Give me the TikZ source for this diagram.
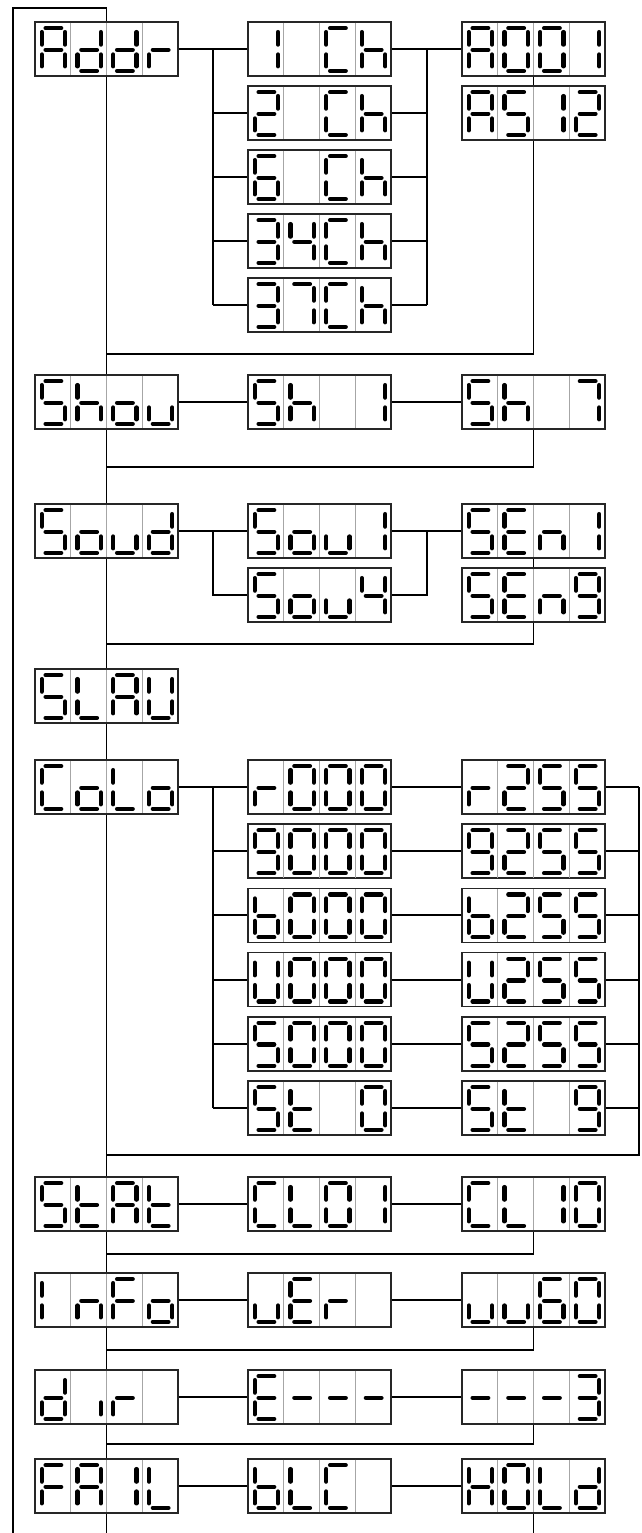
\documentclass[tikz,border=0pt]{standalone}
\usetikzlibrary{calc}
\newcommand\defgl[2]{\expandafter\def\csname zgl#1\endcsname{#2}}
\defgl{A}{a,b,c,e,f,g}
\defgl{0}{a,b,c,d,e,f}
\defgl{1}{b,c}
\defgl{2}{a,b,d,e,g}
\defgl{3}{a,b,c,d,g}
\defgl{4}{b,c,f,g}
\defgl{5}{a,c,d,f,g}
\defgl{6}{a,c,d,e,f,g}
\defgl{7}{a,b,c}
\defgl{9}{a,b,c,d,f,g}
\defgl{b}{c,d,e,f,g}
\defgl{C}{a,d,e,f}
\defgl{d}{b,c,d,e,g}
\defgl{E}{a,d,e,f,g}
\defgl{F}{a,e,f,g}
\defgl{H}{b,c,e,f,g}
\defgl{h}{c,e,f,g}
\defgl{I}{e,f}
\defgl{i}{c}
\defgl{L}{d,e,f}
\defgl{n}{c,e,g}
\defgl{o}{c,d,e,g}
\defgl{r}{e,g}
\defgl{t}{d,e,f,g}
\defgl{U}{b,c,d,e,f}
\defgl{u}{c,d,e}
\defgl{-}{g}
\defgl{x}{}
\expandafter\def\csname zsg\endcsname{}
\expandafter\def\csname zsga\endcsname{\draw[segline] (10.6,-20.9)--(26.2,-20.9);}
\expandafter\def\csname zsgb\endcsname{\draw[segline] (30,-16.9)--(30,-4.4);}
\expandafter\def\csname zsgc\endcsname{\draw[segline] (30,5.5)--(30,17.3);}
\expandafter\def\csname zsgd\endcsname{\draw[segline] (10.6,21.9)--(26.2,21.9);}
\expandafter\def\csname zsge\endcsname{\draw[segline] (6.7,5.5)--(6.7,17.3);}
\expandafter\def\csname zsgf\endcsname{\draw[segline] (6.7,-16.9)--(6.7,-4.4);}
\expandafter\def\csname zsgg\endcsname{\draw[segline] (10.6,0.8)--(26.2,0.8);}
\newcommand\glyph[3]{%
  \begin{scope}[shift={({#1},{#2})}]
    \expandafter\let\expandafter\curgl\csname zgl#3\endcsname
    \foreach \s in \curgl {\csname zsg\s\endcsname}
  \end{scope}}
\newcommand\disp[7]{%
  \node[dispbox] (#1) at ({#2+71.5},{#3}) {};
  \foreach \k in {1,2,3} {\draw[divider] ({#2+35.75*\k},{#3-26.3}) -- ({#2+35.75*\k},{#3+26.3});}
  \glyph{#2}{#3}{#4}\glyph{#2+35.75}{#3}{#5}\glyph{#2+71.5}{#3}{#6}\glyph{#2+107.25}{#3}{#7}}
\begin{document}
\begin{tikzpicture}[x=1pt,y=-1pt,
  dispbox/.style={draw=black!85,line width=1.6pt,fill=white,rectangle,minimum width=143pt,minimum height=54pt,inner sep=0pt},
  divider/.style={draw=black!35,line width=0.9pt},
  segline/.style={draw=black,line width=4.3pt,line cap=round},
  conn/.style={draw=black,line width=1.9pt}]
\useasboundingbox[fill=white] (0,0) rectangle (641,1533);
% displays
\disp{Addr}{35}{49}{A}{d}{d}{r}
\disp{Ch1}{248}{49}{1}{x}{C}{h}
\disp{Ch2}{248}{113}{2}{x}{C}{h}
\disp{Ch6}{248}{177}{6}{x}{C}{h}
\disp{Ch34}{248}{241}{3}{4}{C}{h}
\disp{Ch37}{248}{305}{3}{7}{C}{h}
\disp{A001}{462}{49}{A}{0}{0}{1}
\disp{AS12}{462}{113}{A}{5}{1}{2}
\disp{Shou}{35}{402}{5}{h}{o}{u}
\disp{Sh1}{248}{402}{5}{h}{x}{1}
\disp{Sh7}{462}{402}{5}{h}{x}{7}
\disp{Soud}{35}{531}{5}{o}{u}{d}
\disp{Sou1}{248}{531}{5}{o}{u}{1}
\disp{Sou4}{248}{595}{5}{o}{u}{4}
\disp{SEn1}{462}{531}{5}{E}{n}{1}
\disp{SEn9}{462}{595}{5}{E}{n}{9}
\disp{SLAU}{35}{696}{5}{L}{A}{U}
\disp{CoLo}{35}{787}{C}{o}{L}{o}
\disp{rA}{248}{787}{r}{0}{0}{0}
\disp{gA}{248}{851.2}{9}{0}{0}{0}
\disp{bA}{248}{915.4}{b}{0}{0}{0}
\disp{uA}{248}{979.6}{U}{0}{0}{0}
\disp{wA}{248}{1043.8}{5}{0}{0}{0}
\disp{sA}{248}{1108}{5}{t}{x}{0}
\disp{rB}{462}{787}{r}{2}{5}{5}
\disp{gB}{462}{851.2}{9}{2}{5}{5}
\disp{bB}{462}{915.4}{b}{2}{5}{5}
\disp{uB}{462}{979.6}{U}{2}{5}{5}
\disp{wB}{462}{1043.8}{5}{2}{5}{5}
\disp{sB}{462}{1108}{5}{t}{x}{9}
\disp{StAt}{35}{1204}{5}{t}{A}{t}
\disp{CLa}{248}{1204}{C}{L}{0}{1}
\disp{CLb}{462}{1204}{C}{L}{1}{0}
\disp{InFo}{35}{1300}{I}{n}{F}{o}
\disp{uEr}{248}{1300}{u}{E}{r}{x}
\disp{uu60}{462}{1300}{u}{u}{6}{0}
\disp{dir}{35}{1397}{d}{i}{r}{x}
\disp{Edash}{248}{1397}{E}{-}{-}{-}
\disp{dashT}{462}{1397}{-}{-}{-}{3}
\disp{FAIL}{35}{1486}{F}{A}{1}{L}
\disp{bLC}{248}{1486}{b}{L}{C}{x}
\disp{HOLd}{462}{1486}{H}{0}{L}{d}
% coordinates
\coordinate (bus1) at (213,0);
\coordinate (bus2) at (427,0);
\coordinate (rbus) at (639.2,0);
\coordinate (topL) at (12.7,7.7);
\coordinate (botL) at (12.7,1533);
\coordinate (botS) at (106.5,1533);
\coordinate (botH) at (533.5,1533);
\coordinate (ret1) at (106.5,354);
\coordinate (ret2) at (106.5,467);
\coordinate (ret3) at (106.5,644);
\coordinate (ret4) at (106.5,1155);
\coordinate (ret5) at (106.5,1254);
\coordinate (ret6) at (106.5,1350);
\coordinate (ret7) at (106.5,1444);
% outer loop and spine
\draw[conn] (botL) -- (topL) -| (Addr.north);
\draw[conn] (Addr.south) -- (Shou.north);
\draw[conn] (Shou.south) -- (Soud.north);
\draw[conn] (Soud.south) -- (SLAU.north);
\draw[conn] (SLAU.south) -- (CoLo.north);
\draw[conn] (CoLo.south) -- (StAt.north);
\draw[conn] (StAt.south) -- (InFo.north);
\draw[conn] (InFo.south) -- (dir.north);
\draw[conn] (dir.south) -- (FAIL.north);
\draw[conn] (FAIL.south) -- (botS);
% Addr
\draw[conn] (Addr.east) -- (Ch1.west);
\draw[conn] (Ch1.west -| bus1) -- (Ch37.west -| bus1);
\foreach \n in {Ch2,Ch6,Ch34,Ch37} {\draw[conn] (\n.west -| bus1) -- (\n.west);}
\foreach \n in {Ch2,Ch6,Ch34,Ch37} {\draw[conn] (\n.east) -- (\n.east -| bus2);}
\draw[conn] (Ch1.east -| bus2) -- (Ch37.east -| bus2);
\draw[conn] (Ch1.east) -- (A001.west);
\draw[conn] (A001.south) -- (AS12.north);
\draw[conn] (AS12.south) |- (ret1);
% Shou
\draw[conn] (Shou.east) -- (Sh1.west);
\draw[conn] (Sh1.east) -- (Sh7.west);
\draw[conn] (Sh7.south) |- (ret2);
% Soud
\draw[conn] (Soud.east) -- (Sou1.west);
\draw[conn] (Sou1.west -| bus1) |- (Sou4.west);
\draw[conn] (Sou1.east) -- (SEn1.west);
\draw[conn] (Sou1.east -| bus2) |- (Sou4.east);
\draw[conn] (SEn1.south) -- (SEn9.north);
\draw[conn] (SEn9.south) |- (ret3);
% CoLo
\draw[conn] (CoLo.east) -- (rA.west);
\draw[conn] (rA.west -| bus1) -- (sA.west -| bus1);
\foreach \n in {gA,bA,uA,wA,sA} {\draw[conn] (\n.west -| bus1) -- (\n.west);}
\draw[conn] (rA.east) -- (rB.west);
\draw[conn] (gA.east) -- (gB.west);
\draw[conn] (bA.east) -- (bB.west);
\draw[conn] (uA.east) -- (uB.west);
\draw[conn] (wA.east) -- (wB.west);
\draw[conn] (sA.east) -- (sB.west);
\foreach \n in {rB,gB,bB,uB,wB,sB} {\draw[conn] (\n.east) -- (\n.east -| rbus);}
\draw[conn] (rB.east -| rbus) |- (ret4);
% StAt
\draw[conn] (StAt.east) -- (CLa.west);
\draw[conn] (CLa.east) -- (CLb.west);
\draw[conn] (CLb.south) |- (ret5);
% InFo
\draw[conn] (InFo.east) -- (uEr.west);
\draw[conn] (uEr.east) -- (uu60.west);
\draw[conn] (uu60.south) |- (ret6);
% dir
\draw[conn] (dir.east) -- (Edash.west);
\draw[conn] (Edash.east) -- (dashT.west);
\draw[conn] (dashT.south) |- (ret7);
% FAIL
\draw[conn] (FAIL.east) -- (bLC.west);
\draw[conn] (bLC.east) -- (HOLd.west);
\draw[conn] (HOLd.south) -- (botH);
\end{tikzpicture}
\end{document}
